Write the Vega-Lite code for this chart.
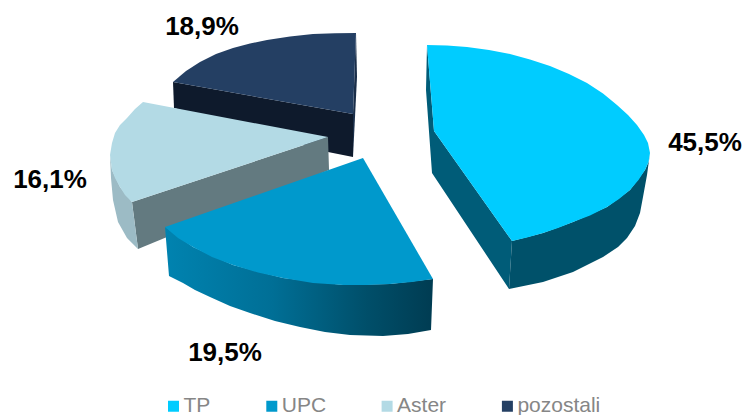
{"$schema":"https://vega.github.io/schema/vega-lite/v6.json","width":744,"height":415,"padding":0,"autosize":{"type":"none"},"background":"white","view":{"stroke":null},
"datasets":{"outline":[
{"part":"poz_side","x":173,"y":82},{"part":"poz_side","x":353,"y":114},{"part":"poz_side","x":353,"y":157},{"part":"poz_side","x":328,"y":152},{"part":"poz_side","x":174,"y":108},
{"part":"poz_strip","x":356,"y":33},{"part":"poz_strip","x":357,"y":77},{"part":"poz_strip","x":353,"y":157},{"part":"poz_strip","x":353,"y":114},
{"part":"aster_in","x":328,"y":137},{"part":"aster_in","x":329,"y":170},{"part":"aster_in","x":138,"y":249},{"part":"aster_in","x":132,"y":202},
{"part":"aster_out","x":110,"y":155},{"part":"aster_out","x":112,"y":170},{"part":"aster_out","x":120,"y":187},{"part":"aster_out","x":132,"y":202},{"part":"aster_out","x":138,"y":249},{"part":"aster_out","x":127,"y":238},{"part":"aster_out","x":118,"y":222},{"part":"aster_out","x":113,"y":200},{"part":"aster_out","x":111,"y":178},
{"part":"upc_side","x":165,"y":227},{"part":"upc_side","x":193,"y":247},{"part":"upc_side","x":233,"y":265},{"part":"upc_side","x":283,"y":278},{"part":"upc_side","x":343,"y":285},{"part":"upc_side","x":390,"y":284},{"part":"upc_side","x":433,"y":279},{"part":"upc_side","x":431,"y":330},{"part":"upc_side","x":408,"y":334},{"part":"upc_side","x":383,"y":336},{"part":"upc_side","x":350,"y":335},{"part":"upc_side","x":325,"y":332},{"part":"upc_side","x":300,"y":327},{"part":"upc_side","x":275,"y":321},{"part":"upc_side","x":250,"y":313},{"part":"upc_side","x":230,"y":306},{"part":"upc_side","x":210,"y":297},{"part":"upc_side","x":195,"y":290},{"part":"upc_side","x":183,"y":283},{"part":"upc_side","x":169,"y":276},
{"part":"tp_edge","x":427,"y":45},{"part":"tp_edge","x":434,"y":131},{"part":"tp_edge","x":512,"y":241},{"part":"tp_edge","x":509,"y":289},{"part":"tp_edge","x":432,"y":173},{"part":"tp_edge","x":426,"y":90},
{"part":"tp_side","x":650,"y":153},{"part":"tp_side","x":648.5,"y":162},{"part":"tp_side","x":645,"y":170},{"part":"tp_side","x":630,"y":190},{"part":"tp_side","x":607,"y":207},{"part":"tp_side","x":573,"y":222},{"part":"tp_side","x":543,"y":233},{"part":"tp_side","x":512,"y":241},{"part":"tp_side","x":509,"y":289},{"part":"tp_side","x":543,"y":282},{"part":"tp_side","x":573,"y":272},{"part":"tp_side","x":603,"y":257},{"part":"tp_side","x":618,"y":247},{"part":"tp_side","x":627,"y":238},{"part":"tp_side","x":635,"y":226},{"part":"tp_side","x":640,"y":213},{"part":"tp_side","x":643,"y":197},{"part":"tp_side","x":647,"y":175}
],
"tops":[
{"slice":"pozostali","x":356,"y":33},{"slice":"pozostali","x":335,"y":33.3},{"slice":"pozostali","x":313,"y":34},{"slice":"pozostali","x":290,"y":36.5},{"slice":"pozostali","x":267,"y":40},{"slice":"pozostali","x":250,"y":43.5},{"slice":"pozostali","x":233,"y":48},{"slice":"pozostali","x":216,"y":54},{"slice":"pozostali","x":200,"y":62},{"slice":"pozostali","x":186,"y":71},{"slice":"pozostali","x":173,"y":82},{"slice":"pozostali","x":353,"y":114},
{"slice":"Aster","x":143,"y":102},{"slice":"Aster","x":328,"y":137},{"slice":"Aster","x":132,"y":202},{"slice":"Aster","x":125,"y":195},{"slice":"Aster","x":120,"y":187},{"slice":"Aster","x":115,"y":178},{"slice":"Aster","x":112,"y":170},{"slice":"Aster","x":110,"y":155},{"slice":"Aster","x":112,"y":143},{"slice":"Aster","x":115,"y":133},{"slice":"Aster","x":120,"y":125},{"slice":"Aster","x":127,"y":118},{"slice":"Aster","x":135,"y":109},
{"slice":"UPC","x":363,"y":158},{"slice":"UPC","x":165,"y":227},{"slice":"UPC","x":178,"y":238},{"slice":"UPC","x":193,"y":247},{"slice":"UPC","x":212,"y":257},{"slice":"UPC","x":233,"y":265},{"slice":"UPC","x":258,"y":272.5},{"slice":"UPC","x":283,"y":278},{"slice":"UPC","x":313,"y":283},{"slice":"UPC","x":343,"y":285},{"slice":"UPC","x":367,"y":285},{"slice":"UPC","x":390,"y":284},{"slice":"UPC","x":412,"y":282},{"slice":"UPC","x":433,"y":279},
{"slice":"TP","x":427,"y":45},{"slice":"TP","x":447,"y":45.5},{"slice":"TP","x":467,"y":47},{"slice":"TP","x":489,"y":50},{"slice":"TP","x":510,"y":54},{"slice":"TP","x":530,"y":59.5},{"slice":"TP","x":550,"y":66},{"slice":"TP","x":569,"y":74},{"slice":"TP","x":587,"y":83},{"slice":"TP","x":603,"y":93.5},{"slice":"TP","x":617,"y":105},{"slice":"TP","x":628,"y":115},{"slice":"TP","x":637,"y":125},{"slice":"TP","x":644,"y":135},{"slice":"TP","x":648,"y":143},{"slice":"TP","x":650,"y":153},{"slice":"TP","x":648.5,"y":162},{"slice":"TP","x":645,"y":170},{"slice":"TP","x":638.5,"y":180},{"slice":"TP","x":630,"y":190},{"slice":"TP","x":619,"y":199},{"slice":"TP","x":607,"y":207},{"slice":"TP","x":590,"y":215.5},{"slice":"TP","x":573,"y":222},{"slice":"TP","x":558,"y":228},{"slice":"TP","x":543,"y":233},{"slice":"TP","x":527,"y":237.5},{"slice":"TP","x":512,"y":241},{"slice":"TP","x":434,"y":131}
],
"labels":[{"slice":"TP","share":"45,5%","x":705,"y":143},{"slice":"UPC","share":"19,5%","x":225,"y":353},{"slice":"Aster","share":"16,1%","x":50,"y":180},{"slice":"pozostali","share":"18,9%","x":202,"y":27}]},
"encoding":{"x":{"field":"x","type":"quantitative","scale":{"domain":[0,744],"nice":false,"zero":false},"axis":null},"y":{"field":"y","type":"quantitative","scale":{"domain":[415,0],"nice":false,"zero":false},"axis":null}},
"layer":[
{"data":{"name":"outline"},"transform":[{"filter":"datum.part==='poz_side'"},{"window":[{"op":"row_number","as":"n"}]}],"mark":{"type":"line","interpolate":"linear-closed","fill":"#0E1A2C","strokeWidth":0},"encoding":{"order":{"field":"n","type":"quantitative"}}},
{"data":{"name":"outline"},"transform":[{"filter":"datum.part==='poz_strip'"},{"window":[{"op":"row_number","as":"n"}]}],"mark":{"type":"line","interpolate":"linear-closed","fill":"#1A2E49","strokeWidth":0},"encoding":{"order":{"field":"n","type":"quantitative"}}},
{"data":{"name":"outline"},"transform":[{"filter":"datum.part==='aster_in'"},{"window":[{"op":"row_number","as":"n"}]}],"mark":{"type":"line","interpolate":"linear-closed","fill":"#637A80","strokeWidth":0},"encoding":{"order":{"field":"n","type":"quantitative"}}},
{"data":{"name":"outline"},"transform":[{"filter":"datum.part==='aster_out'"},{"window":[{"op":"row_number","as":"n"}]}],"mark":{"type":"line","interpolate":"linear-closed","fill":"#9CBBC5","strokeWidth":0},"encoding":{"order":{"field":"n","type":"quantitative"}}},
{"data":{"name":"outline"},"transform":[{"filter":"datum.part==='upc_side'"},{"window":[{"op":"row_number","as":"n"}]}],"mark":{"type":"line","interpolate":"linear-closed","strokeWidth":0,"fill":{"gradient":"linear","x1":0,"y1":0,"x2":1,"y2":0,"stops":[{"offset":0,"color":"#0083B0"},{"offset":0.4,"color":"#006F96"},{"offset":0.75,"color":"#004F6A"},{"offset":1,"color":"#003C52"}]}},"encoding":{"order":{"field":"n","type":"quantitative"}}},
{"data":{"name":"outline"},"transform":[{"filter":"datum.part==='tp_edge'"},{"window":[{"op":"row_number","as":"n"}]}],"mark":{"type":"line","interpolate":"linear-closed","fill":"#005C78","strokeWidth":0},"encoding":{"order":{"field":"n","type":"quantitative"}}},
{"data":{"name":"outline"},"transform":[{"filter":"datum.part==='tp_side'"},{"window":[{"op":"row_number","as":"n"}]}],"mark":{"type":"line","interpolate":"linear-closed","fill":"#00516A","strokeWidth":0},"encoding":{"order":{"field":"n","type":"quantitative"}}},
{"data":{"name":"tops"},"transform":[{"window":[{"op":"row_number","as":"n"}]}],"mark":{"type":"line","interpolate":"linear-closed","strokeWidth":0},"encoding":{"order":{"field":"n","type":"quantitative"},"fill":{"field":"slice","type":"nominal","scale":{"domain":["TP","UPC","Aster","pozostali"],"range":["#00CCFF","#0099CC","#B3DAE5","#243F63"]},"legend":{"title":null,"orient":"none","legendX":163,"legendY":395.5,"direction":"horizontal","symbolType":"square","symbolSize":121,"symbolStrokeWidth":0,"labelFontSize":21,"labelFont":"Liberation Sans","labelColor":"#868686","labelOffset":-0.5,"columnPadding":50.3,"padding":0,"symbolOpacity":1}}}},
{"data":{"name":"labels"},"mark":{"type":"text","font":"Liberation Sans","fontWeight":"bold","fontSize":26,"color":"#000","align":"center","baseline":"middle"},"encoding":{"text":{"field":"share"}}}
]}
